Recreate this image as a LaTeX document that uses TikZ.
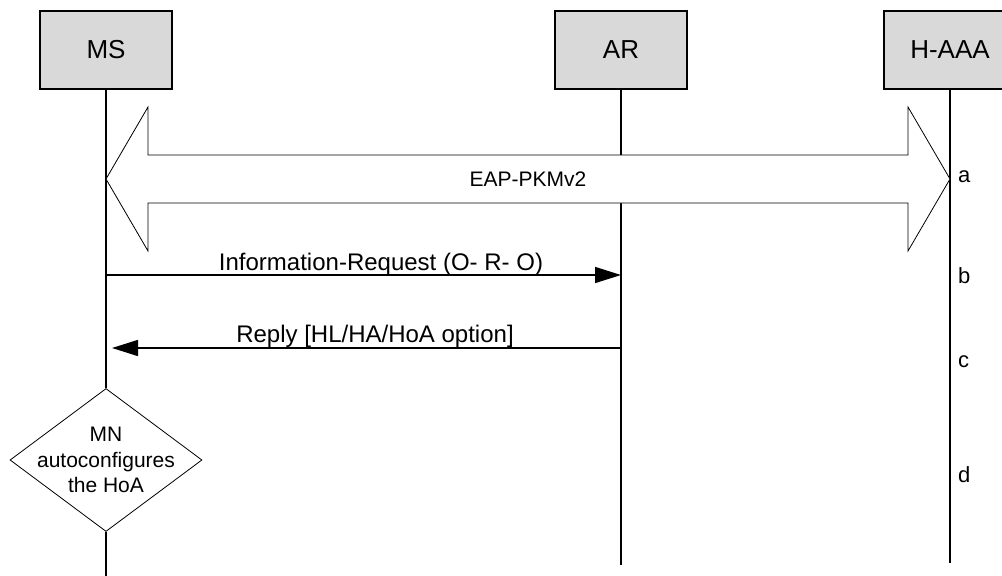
\documentclass[tikz,border=0pt]{standalone}
\usepackage{fontspec}
\setmainfont{Liberation Sans}
\usetikzlibrary{arrows.meta,shapes.geometric}
\definecolor{boxgray}{HTML}{D9D9D9}
\tikzset{
  entity/.style={draw=black, line width=1.2pt, fill=boxgray, minimum width=132pt, minimum height=78pt, inner sep=0pt, font=\fontsize{26}{30}\selectfont},
  lifeline/.style={line width=1.5pt},
  msg/.style={line width=1.5pt, -{Triangle[length=26pt,width=16pt]}},
  msglabel/.style={font=\fontsize{24}{28}\selectfont, anchor=base, inner sep=0pt},
  steplabel/.style={font=\fontsize{22}{26}\selectfont, anchor=base west, inner sep=0pt},
  blockarrow/.style={draw=black, fill=white, line width=0.8pt, line join=miter},
  decision/.style={draw=black, fill=white, shape=diamond, line width=0.8pt, minimum width=192pt, minimum height=143pt, inner sep=0pt, aspect=1.34},
}
\begin{document}
\begin{tikzpicture}[x=1pt,y=-1pt]
\useasboundingbox (0,0) rectangle (1002,576);
\clip (0,0) rectangle (1002,576);
% entities
\node[entity] (ms) at (106,50) {MS};
\node[entity] (ar) at (621,50) {AR};
\node[entity] (aaa) at (950,50) {H-AAA};
\draw[line width=1pt] (ms.north east) -- (ms.south east) -- (ms.south west);
\draw[line width=1pt] (ar.north east) -- (ar.south east) -- (ar.south west);
\draw[line width=1pt] (aaa.north east) -- (aaa.south east) -- (aaa.south west);
% end coordinates
\coordinate (msend) at (106,576);
\coordinate (arend) at (621,565);
\coordinate (aaaend) at (950,563);
% decision
\node[decision] (mn) at (106,460) {};
\node[font=\fontsize{21}{25.5}\selectfont, align=center, inner sep=0pt] (mntext) at (mn.center) {MN\\autoconfigures\\the HoA};
% lifelines
\draw[lifeline] (ms.south) -- (mn.north);
\draw[lifeline] (mn.south) -- (msend);
\draw[lifeline] (ar.south) -- (arend);
\draw[lifeline] (aaa.south) -- (aaaend);
% block arrow
\coordinate (tipL) at (106,179);
\coordinate (tipR) at (950,179);
\draw[blockarrow] (tipL) -- (148,107) -- (148,155) -- (908,155) -- (908,107) -- (tipR)
  -- (908,251) -- (908,203) -- (148,203) -- (148,251) -- cycle;
\node[font=\fontsize{21}{25}\selectfont, inner sep=0pt] (eap) at (528,179) {EAP-PKMv2};
% messages
\coordinate (msI) at (106,275);
\coordinate (arI) at (621,275);
\coordinate (arR) at (621,348);
\coordinate (msR) at (112,348);
\draw[msg] (msI) -- (arI);
\node[msglabel] (infolbl) at (381,270) {Information-Request (O- R- O)};
\draw[msg] (arR) -- (msR);
\node[msglabel] (replylbl) at (375,342) {Reply [HL/HA/HoA option]};
% step labels
\node[steplabel] (sa) at (958,182) {a};
\node[steplabel] (sb) at (958,283) {b};
\node[steplabel] (sc) at (958,367) {c};
\node[steplabel] (sd) at (958,482) {d};
\end{tikzpicture}
\end{document}
